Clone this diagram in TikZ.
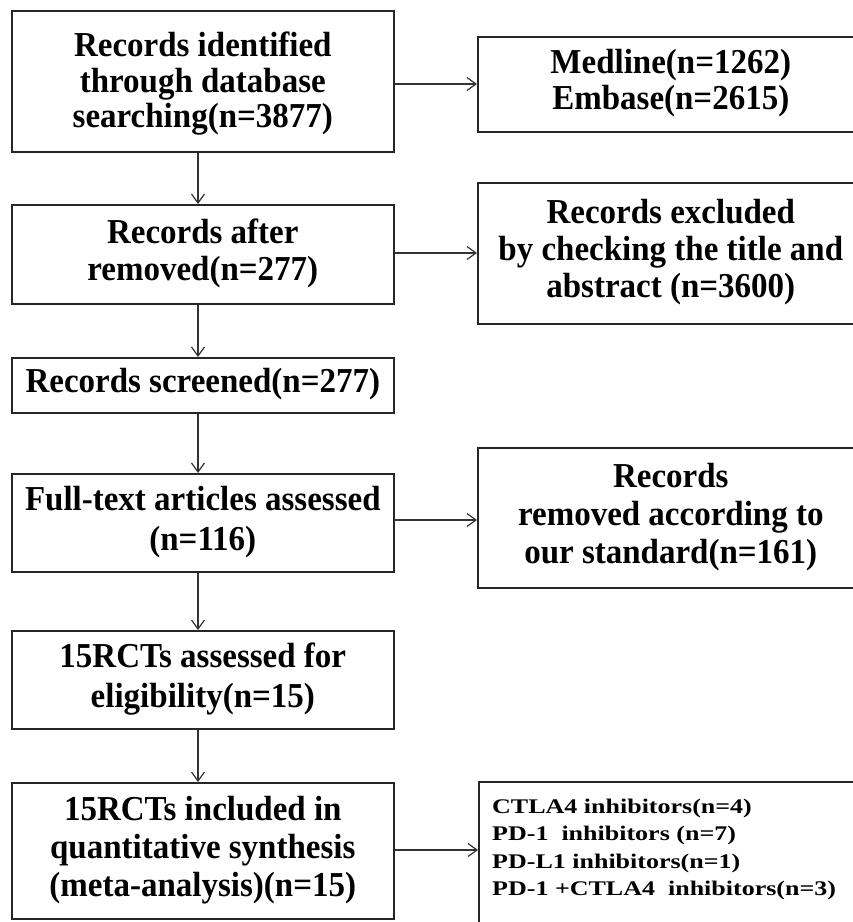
\documentclass[tikz,border=0pt]{standalone}
\usepackage{fontspec}
\setmainfont{Liberation Serif}
\usepackage{graphicx}
\usetikzlibrary{arrows.meta}
\newcommand\vtxt[1]{\scalebox{1}[1.06]{\begin{tabular}{@{}c@{}}#1\end{tabular}}}
\begin{document}
\begin{tikzpicture}[x=1pt,y=-1pt,
  box/.style={draw=black!85, line width=1.6pt, inner sep=0pt, align=center,
    font=\fontsize{33}{34.9}\selectfont\bfseries},
  lbox/.style={box, minimum width=382, anchor=north west},
  rbox/.style={box, minimum width=386, anchor=north west},
  arr/.style={draw=black!80, line width=1.2pt,
    -{Straight Barb[length=9pt,width=13pt,line width=1.2pt]}}]
\useasboundingbox (0,0) rectangle (853,922);

% left column
\node[lbox, minimum height=141, font=\fontsize{33}{33.5}\selectfont\bfseries] (b1) at (11,10)
  {\vtxt{\rule{0pt}{31pt}Records identified\\through database\\searching(n=3877)}};
\node[lbox, minimum height=99] (b2) at (11,204)
  {\vtxt{Records after\\removed(n=277)}};
\node[lbox, minimum height=55] (b3) at (11,357)
  {\vtxt{Records screened(n=277)}};
\node[lbox, minimum height=98, font=\fontsize{33}{37.7}\selectfont\bfseries] (b4) at (11,473)
  {\vtxt{Full-text articles assessed\\(n=116)}};
\node[lbox, minimum height=98, font=\fontsize{33}{37.7}\selectfont\bfseries] (b5) at (11,630)
  {\vtxt{15RCTs assessed for\\eligibility(n=15)}};
\node[lbox, minimum height=136, font=\fontsize{33}{36.1}\selectfont\bfseries] (b6) at (11,782)
  {\vtxt{15RCTs included in\\quantitative synthesis\\(meta-analysis)(n=15)}};

% right column
\node[rbox, minimum height=95, font=\fontsize{33}{34.6}\selectfont\bfseries] (r1) at (477,36)
  {\vtxt{Medline(n=1262)\\Embase(n=2615)}};
\node[rbox, minimum height=141, font=\fontsize{33}{34.6}\selectfont\bfseries] (r2) at (477,182)
  {\vtxt{Records excluded\\by checking the title and\\abstract (n=3600)}};
\node[rbox, minimum height=140, font=\fontsize{33}{35.8}\selectfont\bfseries] (r3) at (477,447)
  {\vtxt{Records\\removed according to\\our standard(n=161)}};
\node[rbox, minimum height=170] (r4) at (478,781) {};
\node[anchor=west, inner sep=0pt, font=\fontsize{26}{34.4}\selectfont\bfseries] (list) at (492,849)
  {\scalebox{1}[0.8]{\begin{tabular}{@{}l@{}}CTLA4 inhibitors(n=4)\\
   PD-1\ \ inhibitors (n=7)\\
   PD-L1 inhibitors(n=1)\\
   PD-1 +CTLA4\ \ inhibitors(n=3)\end{tabular}}};

% connectors
\coordinate (ax) at (198,0);
\draw[arr] (b1.south -| ax) -- (b2.north -| ax);
\draw[arr] (b2.south -| ax) -- (b3.north -| ax);
\draw[arr] (b3.south -| ax) -- (b4.north -| ax);
\draw[arr] (b4.south -| ax) -- (b5.north -| ax);
\draw[arr] (b5.south -| ax) -- (b6.north -| ax);

\coordinate (h1) at (0,84);
\coordinate (h2) at (0,253);
\coordinate (h3) at (0,520);
\coordinate (h4) at (0,850);
\draw[arr] (b1.east |- h1) -- (r1.west |- h1);
\draw[arr] (b2.east |- h2) -- (r2.west |- h2);
\draw[arr] (b4.east |- h3) -- (r3.west |- h3);
\draw[arr] (b6.east |- h4) -- (r4.west |- h4);
\end{tikzpicture}
\end{document}
